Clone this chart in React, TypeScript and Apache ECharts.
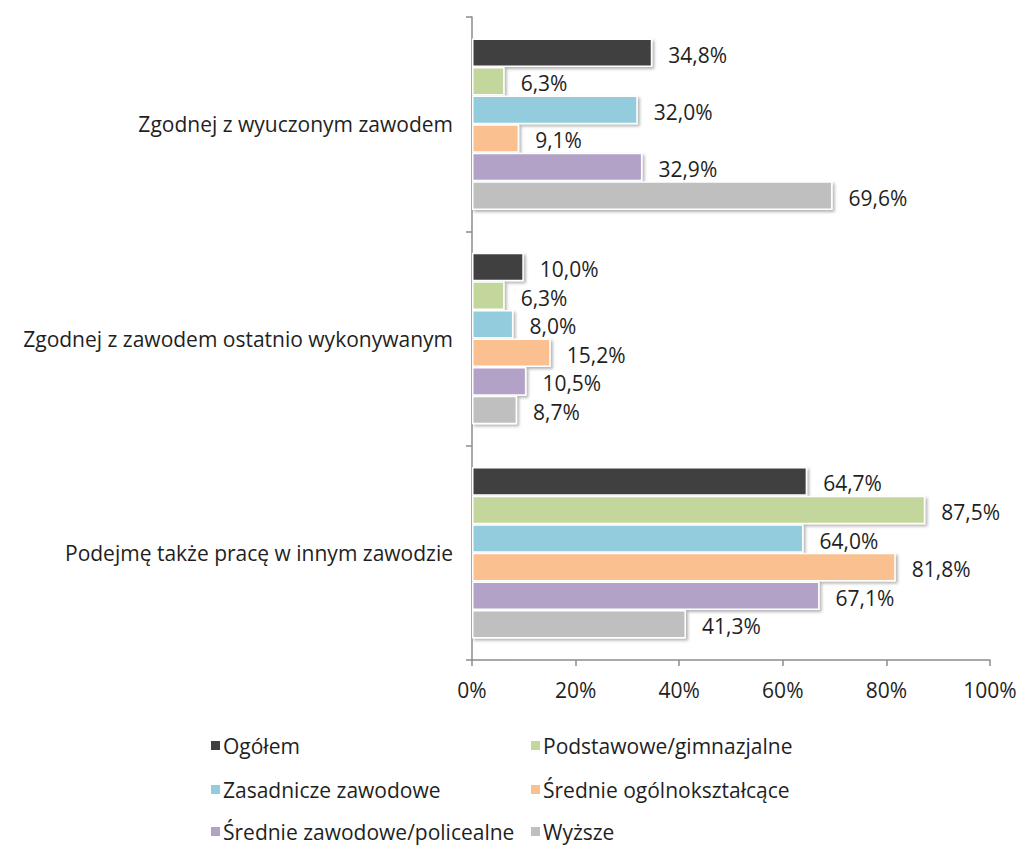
import React, { useEffect, useRef } from "react";
import * as echarts from "echarts";

const categories = [
  "Zgodnej z wyuczonym zawodem",
  "Zgodnej z zawodem ostatnio wykonywanym",
  "Podejmę także pracę w innym zawodzie",
];

const seriesNames = [
  "Ogółem",
  "Podstawowe/gimnazjalne",
  "Zasadnicze zawodowe",
  "Średnie ogólnokształcące",
  "Średnie zawodowe/policealne",
  "Wyższe",
];

const ogolem = [34.8, 10.0, 64.7];
const podstawowe = [6.3, 6.3, 87.5];
const zasadnicze = [32.0, 8.0, 64.0];
const srednieOgol = [9.1, 15.2, 81.8];
const srednieZaw = [32.9, 10.5, 67.1];
const wyzsze = [69.6, 8.7, 41.3];

const seriesValues = [ogolem, podstawowe, zasadnicze, srednieOgol, srednieZaw, wyzsze];
const colors = ["#404040", "#c3d69b", "#93cddd", "#fac090", "#b3a2c7", "#bfbfbf"];

const xTicks = [0, 20, 40, 60, 80, 100];

const FONT = "'Open Sans', 'Noto Sans', sans-serif";
const TEXT = "#1f1f1f";
const FS = 21;

// legend positions (grid layout, 2 columns, 3 rows)
const legendPos = [
  { left: 209, top: 735 },
  { left: 529, top: 735 },
  { left: 209, top: 779 },
  { left: 529, top: 779 },
  { left: 209, top: 821 },
  { left: 529, top: 821 },
];

export default function App() {
  const ref = useRef<HTMLDivElement>(null);
  useEffect(() => {
    if (!ref.current) return;
    const chart = echarts.init(ref.current, null, { renderer: "svg" });
    chart.setOption({
      animation: false,
      backgroundColor: "#ffffff",
      textStyle: { fontFamily: FONT },
      grid: { left: 472, right: 30, top: 17, bottom: 186, containLabel: false },
      xAxis: {
        type: "value",
        min: xTicks[0],
        max: xTicks[xTicks.length - 1],
        interval: 20,
        axisLine: { show: true, lineStyle: { color: "#8c8c8c", width: 1.5 } },
        axisTick: { show: true, length: 6, lineStyle: { color: "#8c8c8c", width: 1.5 } },
        splitLine: { show: false },
        axisLabel: {
          formatter: (v: number) => v + "%",
          color: TEXT,
          fontSize: FS,
          fontFamily: FONT,
          margin: 19,
        },
      },
      yAxis: {
        type: "category",
        data: categories,
        inverse: true,
        axisLine: { show: true, lineStyle: { color: "#8c8c8c", width: 1.5 } },
        axisTick: { show: true, length: 6, lineStyle: { color: "#8c8c8c", width: 1.5 } },
        axisLabel: { color: TEXT, fontSize: FS, fontFamily: FONT, margin: 19 },
      },
      legend: seriesNames.map((name, i) => ({
        data: [name],
        left: legendPos[i].left,
        top: legendPos[i].top,
        itemWidth: 11,
        itemHeight: 11,
        itemGap: 4,
        icon: "rect",
        textStyle: { color: TEXT, fontSize: FS, fontFamily: FONT, padding: [0, 0, 0, -3] },
        padding: 0,
      })),
      series: seriesNames.map((name, i) => ({
        name,
        type: "bar",
        data: seriesValues[i],
        barGap: "0%",
        barCategoryGap: "20%",
        itemStyle: {
          color: colors[i],
          borderColor: "#ffffff",
          borderWidth: 1.5,
          shadowColor: "rgba(0,0,0,0.3)",
          shadowBlur: 3,
          shadowOffsetX: 2,
          shadowOffsetY: 2,
        },
        label: {
          show: true,
          position: "right",
          distance: 16,
          color: TEXT,
          fontSize: FS,
          fontFamily: FONT,
          offset: [0, 2],
          formatter: (p: any) => p.value.toFixed(1).replace(".", ",") + "%",
        },
      })),
    });
    return () => chart.dispose();
  }, []);
  return <div ref={ref} style={{ width: 1020, height: 846, position: "absolute", left: 0, top: 0 }} />;
}
